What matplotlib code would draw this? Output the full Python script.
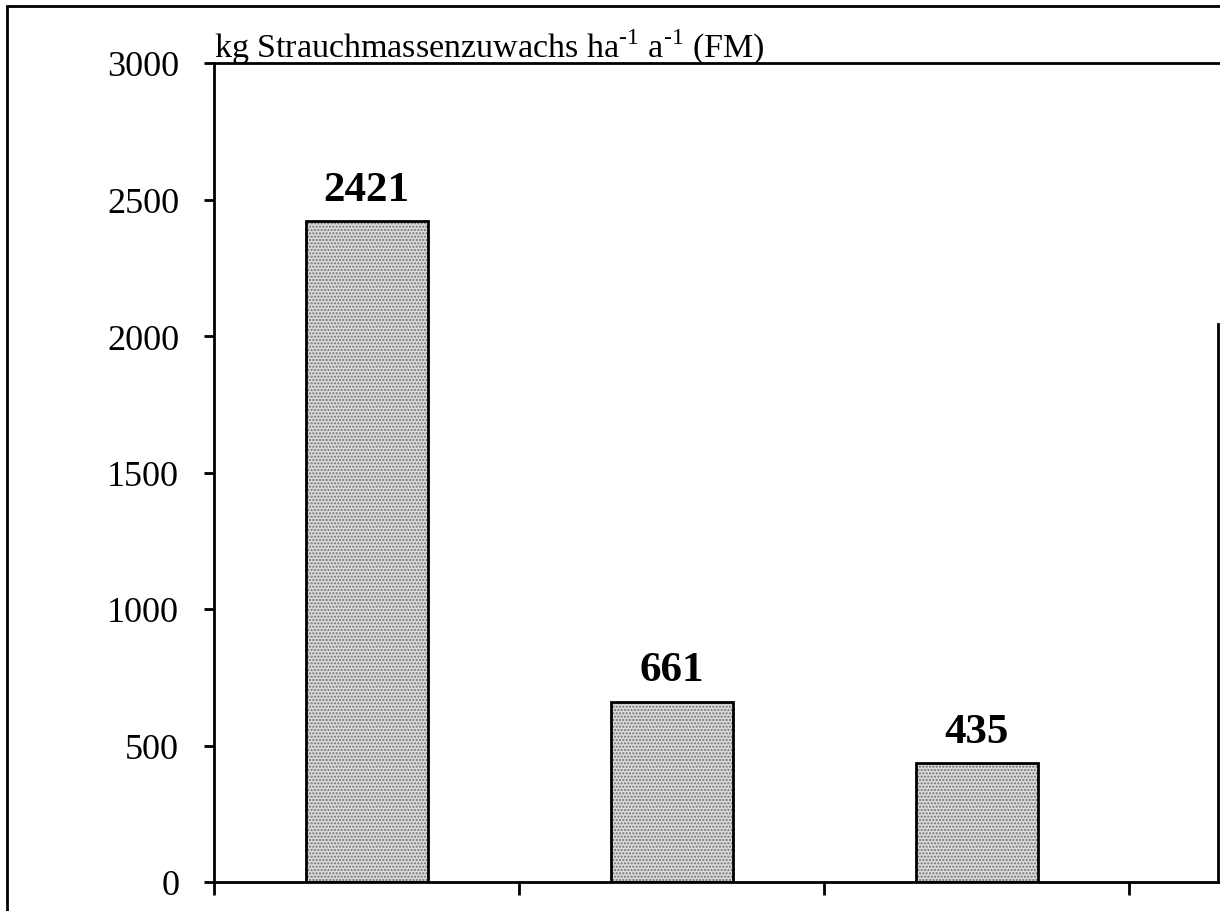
import matplotlib.pyplot as plt
from matplotlib.patches import Rectangle
from matplotlib.lines import Line2D

categories = ["A", "B", "C"]
values = [2421, 661, 435]
yticks = [0, 500, 1000, 1500, 2000, 2500, 3000]
title = "kg Strauchmassenzuwachs ha$^{\\mathregular{\u20101}}$ a$^{\\mathregular{\u20101}}$ (FM)"

plt.rcParams['font.family'] = ['Liberation Serif', 'DejaVu Serif']
plt.rcParams['mathtext.fontset'] = 'custom'
plt.rcParams['mathtext.rm'] = 'Liberation Serif'

W, H = 1220, 912
fig = plt.figure(figsize=(W / 100, H / 100), dpi=100)

# axes: left 214px, bottom 883px, top 64px, runs past right edge
left, right, top, bottom = 214, 1280, 64, 883
ax = fig.add_axes([left / W, 1 - bottom / H, (right - left) / W, (bottom - top) / H])

x = list(range(len(categories)))
# stipple fill, then black outline
ax.bar(x, values, width=0.4, color='#dadada', edgecolor='#707070', hatch='.....', linewidth=0, zorder=2)
ax.bar(x, values, width=0.4, fill=False, edgecolor='black', linewidth=2, zorder=3)

for xi, v in zip(x, values):
    ax.text(xi, v + 45, str(v), ha='center', va='bottom', fontsize=31, fontweight='bold')

ax.set_ylim(0, 3000)
ax.set_xlim(-0.5, -0.5 + (right - left) / 305)
ax.set_yticks(yticks)
ax.set_xticks([-0.5, 0.5, 1.5, 2.5])
ax.set_xticklabels([])
ax.tick_params(axis='y', direction='out', length=7, width=2, labelsize=26, pad=18)
ax.tick_params(axis='x', direction='out', length=9, width=2)
ax.spines['right'].set_visible(False)
for s in ['left', 'bottom', 'top']:
    ax.spines[s].set_linewidth(2)

# partial line at right edge
fig.add_artist(Line2D([1218 / W, 1218 / W], [1 - 325 / H, 1 - bottom / H], color='black', lw=2))

fig.text(left / W, 1 - 58 / H, title, fontsize=24.5, ha='left', va='baseline')

# outer frame
fig.add_artist(Rectangle((7 / W, -0.1), 1.2, 1 - 7 / H + 0.1, fill=False, edgecolor='black', lw=2,
                         transform=fig.transFigure))

plt.savefig('out.png', dpi=100)
